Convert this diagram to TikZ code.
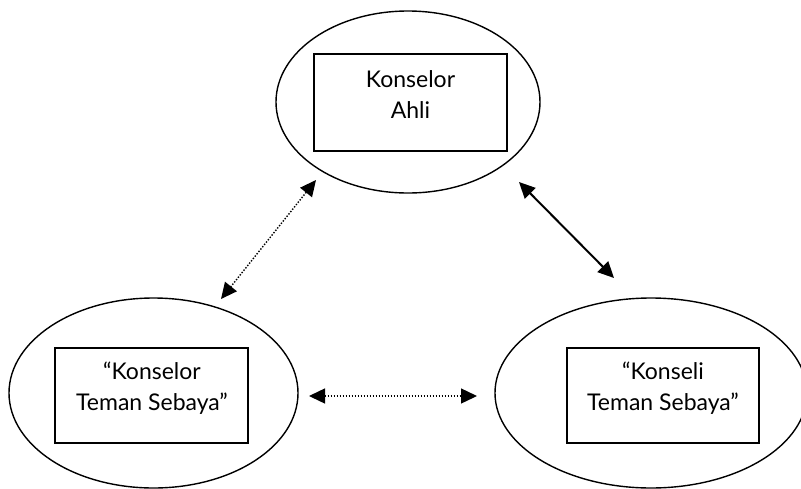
\documentclass[tikz,border=0pt]{standalone}
\usepackage{fontspec}
\setmainfont{Lato}
\usetikzlibrary{shapes.geometric,arrows.meta}
\begin{document}
\begin{tikzpicture}[x=1pt,y=-1pt,
  oval/.style={draw, ellipse, line width=1.4pt, inner sep=0pt},
  box/.style={draw, rectangle, line width=1.5pt, inner sep=0pt},
  lbl/.style={align=center, inner sep=0pt, font=\fontsize{23}{31.5}\selectfont},
  both/.style={{Triangle[length=16pt,width=15pt]}-{Triangle[length=16pt,width=15pt]}},
  dots/.style={both, line width=1.4pt, dash pattern=on 1.4pt off 1.6pt},
  solidlink/.style={both, line width=2pt}]
\useasboundingbox (0,0) rectangle (801,488);

% three circles of the peer counselling model
\node[oval, minimum width=264, minimum height=182] (ahli) at (408,102) {};
\node[oval, minimum width=289, minimum height=190] (sebaya) at (153.5,393) {};
\node[oval, minimum width=312, minimum height=190] (konseli) at (651,393) {};

% boxes with their captions
\node[box, minimum width=193, minimum height=97] (bahli) at (410.5,102.5) {};
\node[lbl] (tahli) at (410.5,94.5) {Konselor\\Ahli};
\node[box, minimum width=193, minimum height=95] (bsebaya) at (151.5,395.5) {};
\node[lbl] (tsebaya) at (152,388) {“Konselor\\Teman Sebaya”};
\node[box, minimum width=192, minimum height=95] (bkonseli) at (663,395.5) {};
\node[lbl] (tkonseli) at (663,388) {“Konseli\\Teman Sebaya”};

% arrow end points beside the circles
\coordinate (p1) at (316,180);
\coordinate (p2) at (221,299);
\coordinate (p3) at (519,182);
\coordinate (p4) at (614,278);
\coordinate (p5) at (309,396);
\coordinate (p6) at (477,396);

\draw[dots] (p1) -- (p2);
\draw[solidlink] (p3) -- (p4);
\draw[dots] (p5) -- (p6);
\end{tikzpicture}
\end{document}
